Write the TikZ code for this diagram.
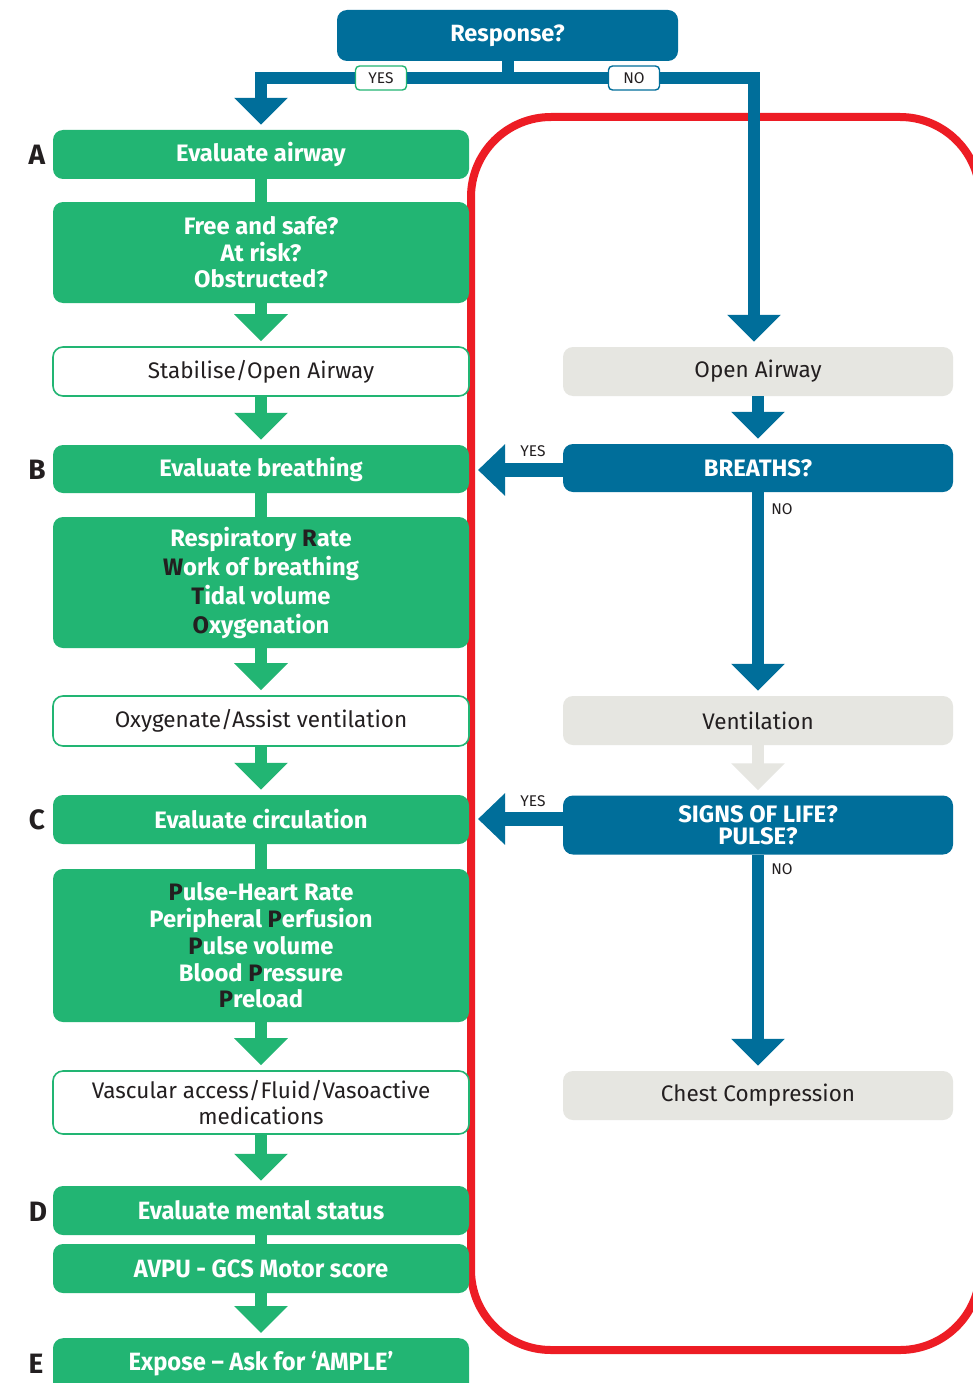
\documentclass[tikz,border=0pt]{standalone}
\usepackage{fontspec}
\setmainfont{Fira Sans}
\newfontfamily\condfont[FakeStretch=0.95]{Fira Sans}
\usetikzlibrary{arrows.meta,calc}
\definecolor{gr}{RGB}{34,181,115}
\definecolor{bl}{RGB}{0,110,154}
\definecolor{gy}{RGB}{230,230,225}
\definecolor{rd}{RGB}{237,28,36}
\definecolor{dk}{RGB}{35,31,32}
\newcommand{\dkl}[1]{\textcolor{dk}{#1}}
\tikzset{
  box/.style={rounded corners=10pt, minimum width=416pt, inner sep=0pt, align=center,
    font=\fontsize{22.5}{26.5}\selectfont},
  gbox/.style={box, fill=gr, text=white, font=\bfseries\fontsize{23.8}{26.5}\selectfont},
  cbox/.style={box, fill=gr, text=white, font=\condfont\bfseries\fontsize{25}{26.5}\selectfont},
  wbox/.style={box, fill=white, draw=gr, line width=1.6pt, text=dk},
  bbox/.style={box, fill=bl, text=white, minimum width=390pt, font=\bfseries\fontsize{23.8}{26.5}\selectfont},
  ybox/.style={box, fill=gy, text=dk, minimum width=390pt},
  gline/.style={draw=gr, line width=12pt},
  bline/.style={draw=bl, line width=12pt},
  yline/.style={draw=gy, line width=12pt},
  tip/.style={-{Triangle[width=52pt,length=27pt]}, shorten >=5pt},
  sidetip/.style={draw=bl, line width=14pt, -{Triangle[width=50pt,length=27pt]}},
  lab/.style={fill=white, rounded corners=4pt, minimum width=51pt, minimum height=24pt,
    inner sep=0pt, line width=1.4pt, text=dk, font=\fontsize{15.5}{15.5}\selectfont},
  plab/.style={text=dk, inner sep=0pt, font=\fontsize{15.5}{15.5}\selectfont},
  letter/.style={text=dk, inner sep=0pt, font=\bfseries\fontsize{28}{28}\selectfont}
}
\begin{document}
\begin{tikzpicture}[x=1pt,y=-1pt]
\useasboundingbox (0,0) rectangle (973,1383);
\fill[white] (0,0) rectangle (973,1383);

% red frame
\draw[rd, line width=8pt, rounded corners=80pt] (471,117) rectangle (980,1350);

% letters
\node[letter] (la) at (37,155) {A};
\node[letter] (lb) at (37,470) {B};
\node[letter] (lc) at (37,820) {C};
\node[letter] (ld) at (38,1212) {D};
\node[letter] (le) at (36,1364) {E};

% top
\node[box, fill=bl, text=white, minimum width=341pt, minimum height=51pt,
  font=\bfseries\fontsize{23.5}{26.5}\selectfont] (resp) at (507.5,35.5) {Response?};

% left column
\node[gbox, minimum height=49pt] (ea) at (261,154.5) {Evaluate airway};
\node[gbox, minimum height=101pt] (fs) at (261,252.5) {Free and safe?\\At risk?\\Obstructed?};
\node[wbox, minimum height=49pt] (st) at (261,371.5) {Stabilise/Open Airway};
\node[gbox, minimum height=48pt] (eb) at (261,469) {Evaluate breathing};
\node[gbox, minimum height=131pt, font=\bfseries\fontsize{23.8}{29}\selectfont] (rr) at (261,582.5)
  {Respiratory \dkl{R}ate\\\dkl{W}ork of breathing\\\dkl{T}idal volume\\\dkl{O}xygenation};
\node[wbox, minimum height=50pt] (ox) at (261,721) {Oxygenate/Assist ventilation};
\node[gbox, minimum height=49pt] (ec) at (261,819.5) {Evaluate circulation};
\node[gbox, minimum height=153pt, font=\bfseries\fontsize{23.8}{26.8}\selectfont] (pu) at (261,945.5)
  {\dkl{P}ulse-Heart Rate\\Peripheral \dkl{P}erfusion\\\dkl{P}ulse volume\\Blood \dkl{P}ressure\\\dkl{P}reload};
\node[wbox, minimum height=63pt] (va) at (261,1102.5) {Vascular access/Fluid/Vasoactive\\medications};
\node[cbox, minimum height=49pt] (em) at (261,1210.5) {Evaluate mental status};
\node[cbox, minimum height=49pt] (av) at (261,1268.5) {AVPU - GCS Motor score};
\node[cbox, minimum height=80pt, anchor=north] (ex) at (261,1338) {};
\node[text=white, inner sep=0pt, font=\condfont\bfseries\fontsize{25}{26.5}\selectfont] (ext) at (261,1364) {Expose – Ask for ‘AMPLE’};

% right column
\node[ybox, minimum height=49pt] (oa) at (758,371.5) {Open Airway};
\node[bbox, minimum height=48pt] (br) at (758,468) {BREATHS?};
\node[ybox, minimum height=49pt] (ve) at (758,720.5) {Ventilation};
\node[bbox, minimum height=59pt, font=\bfseries\fontsize{23.8}{21.5}\selectfont] (sl) at (758,825) {SIGNS OF LIFE?\\PULSE?};
\node[ybox, minimum height=49pt] (cc) at (758,1095.5) {Chest Compression};

% top connectors
\coordinate (bar) at (507.5,78);
\draw[bline] (resp.south) -- (bar);
\draw[bline, tip] (bar) -| (ea.north);
\draw[bline, tip] (bar) -| ([xshift=-4pt]oa.north);
\node[lab, draw=gr] (yes0) at (381,78) {YES};
\node[lab, draw=bl] (no0) at (634,78) {NO};

% left connectors
\draw[gline] (ea.south) -- (fs.north);
\draw[gline, tip] (fs.south) -- (st.north);
\draw[gline, tip] (st.south) -- (eb.north);
\draw[gline] (eb.south) -- (rr.north);
\draw[gline, tip] (rr.south) -- (ox.north);
\draw[gline, tip] (ox.south) -- (ec.north);
\draw[gline] (ec.south) -- (pu.north);
\draw[gline, tip] (pu.south) -- (va.north);
\draw[gline, tip] (va.south) -- (em.north);
\draw[gline] (em.south) -- (av.north);
\draw[gline, tip] (av.south) -- (ex.north);

% right connectors
\draw[bline, tip] (oa.south) -- (br.north);
\draw[bline, tip] (br.south) -- (ve.north);
\draw[yline, tip] (ve.south) -- (sl.north);
\draw[bline, tip] (sl.south) -- (cc.north);

% side arrows
\coordinate (y1) at (478,470);
\draw[sidetip] ([yshift=-2pt]br.west) -- (y1);
\coordinate (y2) at (478,819);
\draw[sidetip] ([yshift=6pt]sl.west) -- (y2);
\node[plab] (yes1) at (533,451) {YES};
\node[plab] (no1) at (782,509) {NO};
\node[plab] (yes2) at (533,801) {YES};
\node[plab] (no2) at (782,869) {NO};
\end{tikzpicture}
\end{document}
